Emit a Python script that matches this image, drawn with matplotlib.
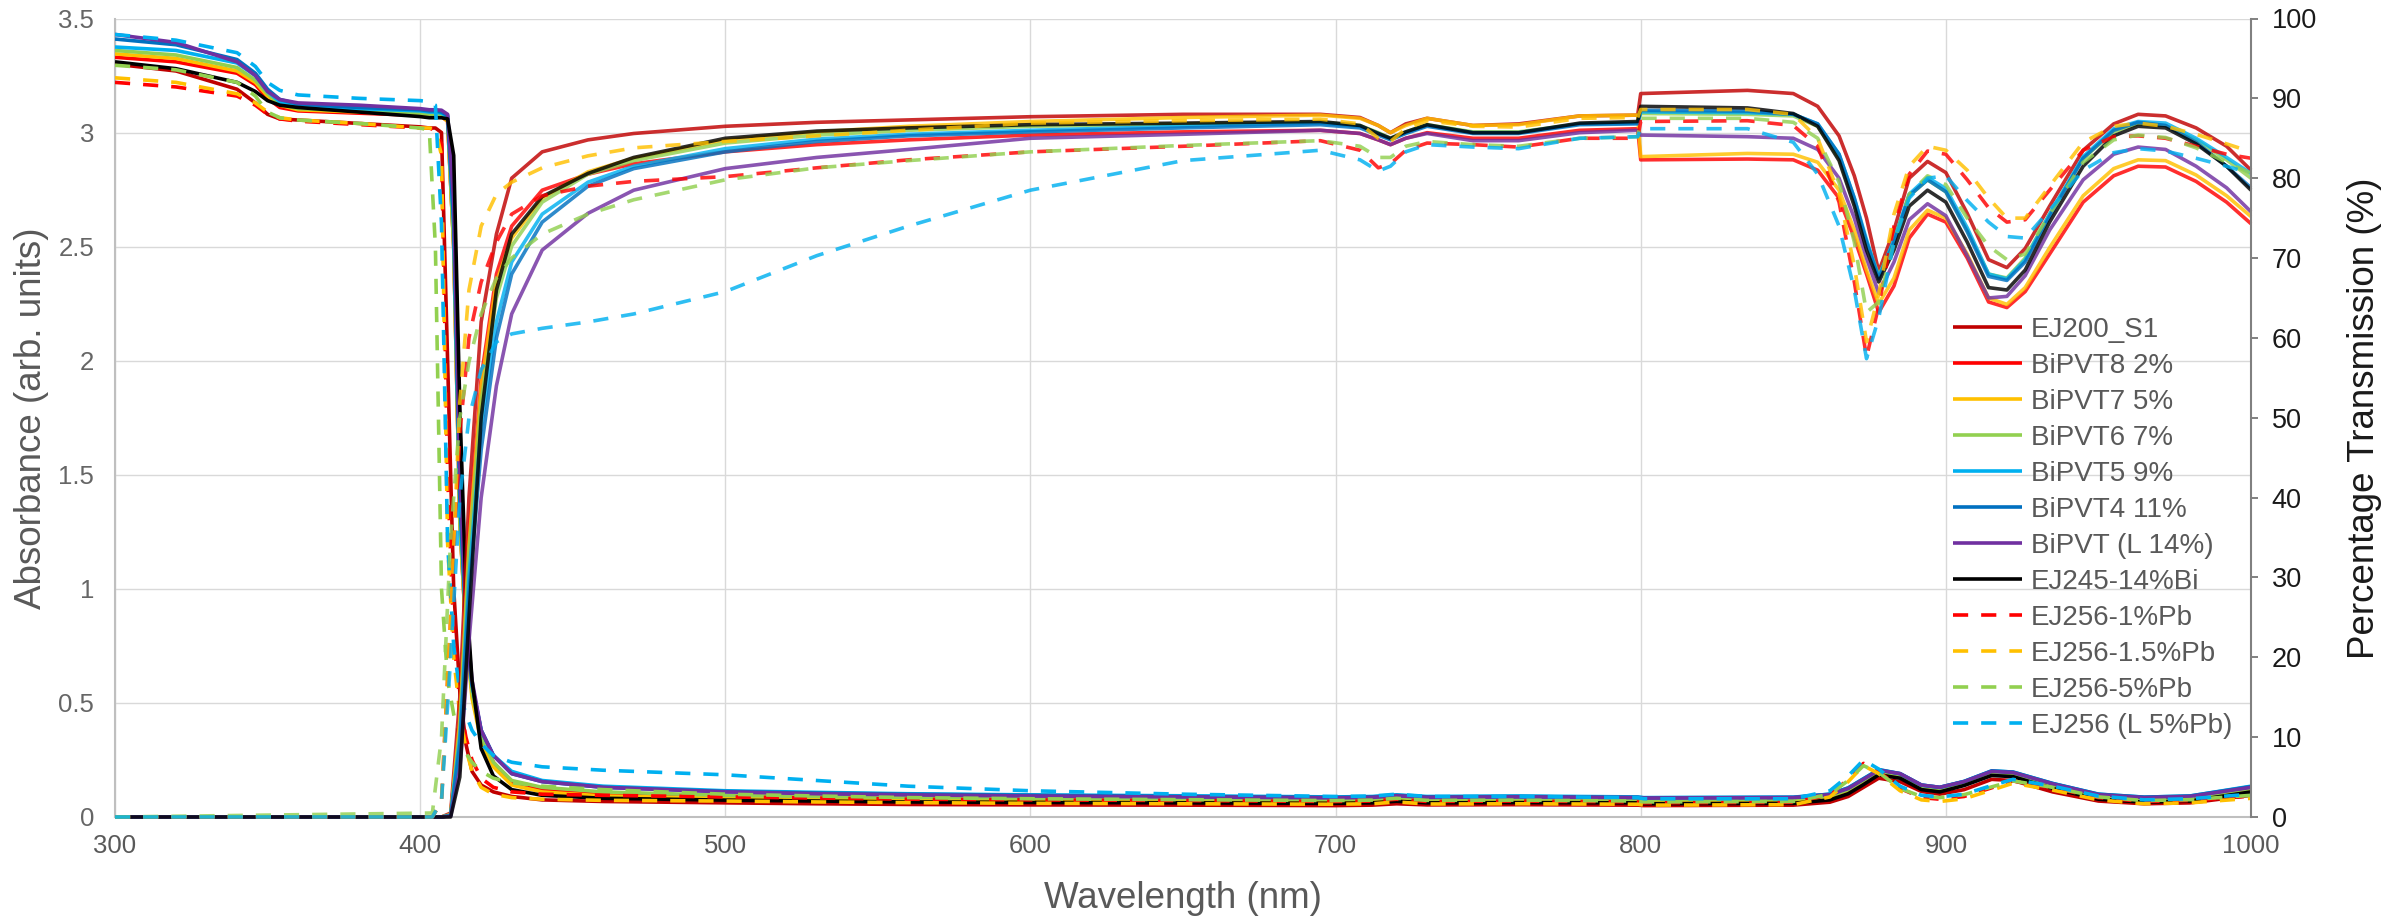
import matplotlib
matplotlib.use('Agg')
import matplotlib.pyplot as plt
from matplotlib.ticker import FuncFormatter, MultipleLocator

plt.rcParams['font.family'] = ['Liberation Sans', 'DejaVu Sans']

# ---------------- series meta ----------------
labels = ['EJ200_S1', 'BiPVT8 2%', 'BiPVT7 5%', 'BiPVT6 7%', 'BiPVT5 9%',
          'BiPVT4 11%', 'BiPVT (L 14%)', 'EJ245-14%Bi', 'EJ256-1%Pb',
          'EJ256-1.5%Pb', 'EJ256-5%Pb', 'EJ256 (L 5%Pb)']
colors = ['#C00000', '#FF0000', '#FFC000', '#92D050', '#00B0F0', '#0070C0',
          '#7030A0', '#000000', '#FF0000', '#FFC000', '#92D050', '#00B0F0']
dashed = [False] * 8 + [True] * 4

# ---------------- absorbance (left axis) ----------------
WA = [300, 320, 340, 346, 350, 354, 360, 380, 400,
      403, 405, 407, 409, 411, 413, 415, 417, 420, 424,
      430, 440, 460, 500, 530, 560, 600, 650, 700,
      712, 720, 730, 760, 799, 801, 850,
      862, 868, 873, 878, 885, 892, 898, 906, 915, 922, 935, 950, 965, 980, 1000]

A_EJ200 = [3.30, 3.27, 3.19, 3.13, 3.08, 3.06, 3.055, 3.04, 3.025,
           3.02, 3.02, 3.0, 2.0, 1.0, 0.55, 0.32, 0.2, 0.14, 0.11,
           0.09, 0.075, 0.068, 0.062, 0.058, 0.055, 0.053, 0.052, 0.05,
           0.052, 0.058, 0.053, 0.054, 0.052, 0.05, 0.052,
           0.065, 0.09, 0.13, 0.17, 0.155, 0.112, 0.1, 0.12, 0.165, 0.16, 0.11, 0.07, 0.058, 0.062, 0.095]
A_B8 = [3.33, 3.31, 3.26, 3.21, 3.15, 3.11, 3.095, 3.085, 3.075,
        3.07, 3.07, 3.07, 3.05, 2.5, 1.3, 0.8, 0.55, 0.35, 0.24,
        0.15, 0.12, 0.1, 0.09, 0.085, 0.082, 0.08, 0.077, 0.075,
        0.077, 0.083, 0.077, 0.078, 0.075, 0.072, 0.074,
        0.088, 0.115, 0.155, 0.195, 0.18, 0.13, 0.12, 0.145, 0.19, 0.185, 0.135, 0.09, 0.078, 0.082, 0.12]
A_B7 = [3.345, 3.325, 3.27, 3.22, 3.16, 3.12, 3.10, 3.09, 3.08,
        3.075, 3.075, 3.07, 3.05, 2.5, 1.3, 0.8, 0.52, 0.33, 0.22,
        0.14, 0.11, 0.092, 0.082, 0.078, 0.075, 0.072, 0.07, 0.068,
        0.07, 0.077, 0.07, 0.072, 0.07, 0.068, 0.07,
        0.085, 0.112, 0.152, 0.192, 0.177, 0.127, 0.117, 0.142, 0.187, 0.182, 0.132, 0.087, 0.075, 0.079, 0.118]
A_B6 = [3.36, 3.34, 3.285, 3.23, 3.17, 3.125, 3.105, 3.095, 3.085,
        3.08, 3.08, 3.075, 3.06, 2.5, 1.3, 0.82, 0.55, 0.35, 0.24,
        0.16, 0.13, 0.11, 0.095, 0.09, 0.086, 0.083, 0.08, 0.077,
        0.079, 0.086, 0.079, 0.08, 0.078, 0.076, 0.078,
        0.092, 0.12, 0.16, 0.2, 0.185, 0.135, 0.125, 0.15, 0.195, 0.19, 0.14, 0.093, 0.08, 0.085, 0.125]
A_B5 = [3.375, 3.36, 3.305, 3.25, 3.18, 3.135, 3.115, 3.105, 3.095,
        3.09, 3.09, 3.085, 3.07, 2.6, 1.4, 0.85, 0.58, 0.38, 0.27,
        0.20, 0.16, 0.135, 0.115, 0.108, 0.102, 0.097, 0.093, 0.088,
        0.09, 0.097, 0.09, 0.092, 0.088, 0.085, 0.087,
        0.1, 0.128, 0.168, 0.208, 0.19, 0.14, 0.13, 0.156, 0.202, 0.197, 0.147, 0.1, 0.087, 0.092, 0.135]
A_B4 = [3.41, 3.385, 3.32, 3.26, 3.19, 3.145, 3.125, 3.11, 3.10,
        3.095, 3.095, 3.09, 3.075, 2.6, 1.4, 0.85, 0.58, 0.38, 0.27,
        0.19, 0.155, 0.13, 0.112, 0.105, 0.1, 0.095, 0.09, 0.086,
        0.088, 0.095, 0.088, 0.09, 0.086, 0.084, 0.086,
        0.1, 0.127, 0.167, 0.207, 0.19, 0.14, 0.13, 0.156, 0.202, 0.197, 0.147, 0.1, 0.087, 0.092, 0.133]
A_BL = [3.43, 3.395, 3.31, 3.25, 3.18, 3.145, 3.13, 3.12, 3.105,
        3.1, 3.1, 3.098, 3.08, 2.7, 1.5, 0.9, 0.6, 0.38, 0.27,
        0.19, 0.155, 0.13, 0.11, 0.102, 0.097, 0.092, 0.088, 0.084,
        0.086, 0.093, 0.086, 0.088, 0.085, 0.083, 0.085,
        0.098, 0.125, 0.165, 0.205, 0.19, 0.14, 0.13, 0.155, 0.2, 0.195, 0.145, 0.098, 0.085, 0.09, 0.13]
A_EJ245 = [3.31, 3.28, 3.22, 3.18, 3.14, 3.12, 3.11, 3.09, 3.07,
           3.065, 3.065, 3.065, 3.06, 2.9, 1.8, 1.0, 0.6, 0.3, 0.18,
           0.12, 0.095, 0.082, 0.074, 0.07, 0.066, 0.064, 0.062, 0.06,
           0.062, 0.069, 0.062, 0.063, 0.062, 0.058, 0.06,
           0.075, 0.102, 0.142, 0.185, 0.17, 0.12, 0.11, 0.138, 0.182, 0.177, 0.125, 0.078, 0.065, 0.07, 0.11]
A_P1 = [3.22, 3.20, 3.16, 3.12, 3.08, 3.06, 3.05, 3.035, 3.02,
        3.02, 3.01, 2.95, 1.5, 0.8, 0.5, 0.35, 0.25, 0.17, 0.13,
        0.11, 0.1, 0.095, 0.088, 0.083, 0.078, 0.075, 0.072, 0.068,
        0.07, 0.078, 0.068, 0.07, 0.066, 0.062, 0.064,
        0.098, 0.165, 0.235, 0.2, 0.125, 0.085, 0.078, 0.09, 0.128, 0.158, 0.128, 0.085, 0.068, 0.072, 0.092]
A_P15 = [3.24, 3.22, 3.17, 3.13, 3.09, 3.065, 3.055, 3.04, 3.02,
         3.02, 3.015, 2.9, 1.2, 0.7, 0.45, 0.3, 0.2, 0.13, 0.1,
         0.085, 0.078, 0.073, 0.07, 0.066, 0.063, 0.06, 0.058, 0.056,
         0.058, 0.066, 0.057, 0.058, 0.056, 0.052, 0.054,
         0.088, 0.155, 0.225, 0.19, 0.115, 0.075, 0.068, 0.08, 0.118, 0.148, 0.118, 0.075, 0.058, 0.062, 0.082]
A_P5 = [3.295, 3.275, 3.22, 3.16, 3.09, 3.065, 3.055, 3.04, 3.02,
        3.01, 2.5, 1.0, 0.6, 0.45, 0.35, 0.28, 0.24, 0.2, 0.17,
        0.15, 0.135, 0.12, 0.10, 0.092, 0.085, 0.08, 0.076, 0.072,
        0.074, 0.082, 0.073, 0.074, 0.07, 0.066, 0.068,
        0.1, 0.16, 0.225, 0.195, 0.125, 0.09, 0.085, 0.098, 0.132, 0.158, 0.13, 0.088, 0.072, 0.076, 0.095]
A_PL = [3.43, 3.405, 3.35, 3.29, 3.22, 3.185, 3.165, 3.15, 3.14,
        3.135, 3.12, 2.6, 1.2, 0.75, 0.55, 0.45, 0.38, 0.32, 0.27,
        0.24, 0.22, 0.205, 0.185, 0.16, 0.135, 0.115, 0.1, 0.09,
        0.092, 0.1, 0.09, 0.09, 0.085, 0.08, 0.08,
        0.115, 0.18, 0.25, 0.21, 0.135, 0.095, 0.088, 0.1, 0.138, 0.165, 0.135, 0.092, 0.075, 0.08, 0.1]

# ---------------- transmission (right axis, %) ----------------
WT = [300, 404, 407, 410, 413, 416, 420, 425, 430, 440,
      455, 470, 500, 530, 560, 600, 650, 695, 708, 714,
      718, 723, 730, 745, 760, 780, 799, 800, 835, 850,
      858, 865, 870, 874, 878, 883, 888, 894, 900, 907,
      914, 920, 926, 934, 945, 955, 963, 972, 982, 992, 1000]

T_EJ200 = [0, 0, 0, 0.5, 15, 40, 62, 73, 80, 83.3,
           84.8, 85.6, 86.5, 87.0, 87.3, 87.7, 88.0, 88.0, 87.6, 86.6,
           85.7, 86.8, 87.5, 86.6, 86.8, 87.8, 87.9, 90.6, 91.0, 90.6,
           89.0, 85.3, 80.3, 75.0, 68.3, 73.5, 80.0, 82.1, 80.7, 75.6,
           69.8, 68.8, 71.2, 76.5, 83.5, 86.8, 88.0, 87.8, 86.3, 84.0, 81.0]
T_B8 = [0, 0, 0, 0.3, 12, 35, 55, 68, 74, 78.5,
        80.5, 81.8, 83.3, 84.2, 84.8, 85.4, 85.8, 86.0, 85.6, 84.8,
        84.2, 85.0, 85.7, 85.0, 85.0, 86.0, 86.2, 82.3, 82.4, 82.3,
        81.0, 77.5, 72.5, 68.0, 63.2, 66.5, 72.5, 75.5, 74.5, 70.0,
        64.5, 63.8, 65.8, 70.5, 77.0, 80.3, 81.5, 81.4, 79.6, 77.0, 74.3]
T_B7 = [0, 0, 0, 0.3, 12, 34, 54, 67, 72.5, 77.5,
        80.8, 82.5, 84.8, 85.8, 86.5, 87.1, 87.6, 87.9, 87.5, 86.6,
        85.7, 86.6, 87.5, 86.6, 86.7, 87.8, 87.9, 82.7, 83.1, 83.0,
        82.0, 78.5, 73.5, 68.5, 64.3, 67.5, 73.5, 76.0, 75.0, 70.5,
        65.0, 64.2, 66.3, 71.3, 77.8, 81.2, 82.3, 82.2, 80.4, 77.8, 75.2]
T_B6 = [0, 0, 0, 0.3, 11, 33, 52, 65, 71.5, 77.0,
        80.5, 82.2, 84.4, 85.4, 86.0, 86.5, 86.8, 87.0, 86.6, 85.7,
        85.0, 85.8, 86.7, 85.8, 85.8, 86.8, 87.0, 88.1, 88.0, 87.8,
        86.5, 82.5, 77.0, 72.0, 67.8, 72.0, 77.8, 79.8, 78.3, 73.5,
        68.0, 67.5, 70.0, 75.5, 82.5, 85.8, 86.8, 86.6, 84.8, 82.3, 80.0]
T_B5 = [0, 0, 0, 0.2, 10, 30, 49, 62, 69.5, 75.5,
        79.5, 81.5, 83.7, 84.9, 85.5, 86.0, 86.5, 86.9, 86.5, 85.6,
        84.9, 85.7, 86.6, 85.7, 85.7, 86.8, 86.9, 88.3, 88.2, 88.0,
        86.8, 83.0, 77.5, 72.3, 67.6, 72.3, 78.0, 80.1, 78.7, 73.8,
        68.0, 67.4, 69.8, 75.5, 82.7, 86.2, 87.1, 86.9, 85.0, 82.6, 80.6]
T_B4 = [0, 0, 0, 0.2, 9, 28, 46, 60, 68, 74.5,
        79.0, 81.2, 83.3, 84.6, 85.3, 85.8, 86.3, 86.7, 86.3, 85.4,
        84.8, 85.6, 86.5, 85.6, 85.6, 86.7, 86.8, 88.5, 88.4, 88.0,
        86.8, 83.0, 77.5, 72.0, 67.4, 72.0, 77.8, 79.8, 78.3, 73.3,
        67.7, 67.2, 69.5, 75.2, 82.5, 86.0, 87.0, 86.6, 84.5, 81.5, 78.8]
T_BL = [0, 0, 0, 0.1, 6, 22, 40, 54, 63, 71.0,
        75.6, 78.5, 81.2, 82.6, 83.6, 85.0, 85.5, 86.0, 85.6, 84.8,
        84.2, 85.0, 85.6, 84.7, 84.7, 85.7, 86.0, 85.4, 85.2, 85.0,
        83.6, 80.0, 75.0, 70.0, 65.6, 69.5, 74.8, 76.8, 75.3, 70.3,
        65.0, 65.2, 67.8, 73.5, 79.8, 83.0, 83.9, 83.6, 81.5, 78.8, 75.8]
T_EJ245 = [0, 0, 0, 0, 5, 25, 50, 66, 73, 77.7,
           80.6, 82.6, 85.0, 85.9, 86.3, 86.7, 86.9, 87.1, 86.6, 85.6,
           85.0, 85.8, 86.7, 85.7, 85.7, 86.9, 87.1, 89.0, 88.8, 88.1,
           86.5, 82.2, 76.5, 71.0, 67.0, 71.0, 76.5, 78.5, 77.0, 72.0,
           66.3, 66.0, 68.5, 74.5, 81.5, 85.3, 86.5, 86.3, 84.3, 81.5, 78.5]
T_P1 = [0, 0, 2, 25, 48, 60, 67, 72, 75.5, 77.8,
        79.0, 79.6, 80.2, 81.3, 82.3, 83.3, 84.0, 84.7, 83.5, 81.3,
        81.8, 83.5, 84.4, 84.2, 83.9, 85.0, 85.0, 87.1, 87.2, 86.6,
        84.0, 77.0, 67.0, 57.6, 64.0, 74.0, 80.5, 83.4, 83.0, 79.8,
        76.3, 74.5, 74.8, 78.5, 83.5, 85.2, 85.3, 85.0, 84.0, 83.0, 82.5]
T_P15 = [0, 0, 2, 25, 52, 66, 74, 78, 79.5, 81.3,
         82.8, 83.8, 84.6, 85.3, 86.0, 86.9, 87.2, 87.4, 86.8, 85.0,
         84.6, 86.2, 87.2, 86.5, 86.4, 87.5, 87.6, 88.6, 88.6, 88.0,
         85.0, 78.0, 69.0, 59.5, 65.5, 75.5, 81.5, 84.0, 83.5, 81.0,
         77.5, 75.0, 75.0, 79.0, 84.5, 86.5, 86.9, 86.5, 85.5, 84.3, 83.3]
T_P5 = [0, 0.5, 10, 35, 50, 57, 63, 67.5, 70, 73,
        75.5, 77.3, 79.8, 81.3, 82.2, 83.3, 84.1, 84.7, 84.0, 82.6,
        82.6, 84.0, 84.6, 84.2, 84.0, 85.0, 85.2, 87.5, 87.5, 87.0,
        85.0, 79.5, 72.0, 63.2, 64.5, 72.0, 78.0, 80.3, 79.2, 75.0,
        71.5, 69.8, 70.5, 75.5, 82.0, 84.8, 85.4, 85.1, 83.8, 82.0, 80.6]
T_PL = [0, 0, 2, 20, 40, 50, 56, 59.5, 60.5, 61.2,
        62.0, 63.0, 65.8, 70.3, 74.0, 78.5, 82.2, 83.5, 82.3, 80.9,
        81.5, 83.3, 84.2, 83.9, 83.7, 85.0, 85.2, 86.2, 86.2, 84.5,
        80.5, 74.0, 66.0, 57.4, 62.5, 72.0, 77.5, 80.0, 80.3, 77.2,
        74.5, 72.7, 72.5, 76.0, 81.0, 83.2, 83.7, 83.4, 82.5, 81.5, 80.6]

A_all = [A_EJ200, A_B8, A_B7, A_B6, A_B5, A_B4, A_BL, A_EJ245, A_P1, A_P15, A_P5, A_PL]
T_all = [T_EJ200, T_B8, T_B7, T_B6, T_B5, T_B4, T_BL, T_EJ245, T_P1, T_P15, T_P5, T_PL]

x_ticks = [300, 400, 500, 600, 700, 800, 900, 1000]

# ---------------- figure ----------------
W, H = 2399, 917
fig = plt.figure(figsize=(W / 100, H / 100), dpi=100)
L, R, B, T = 115, 2251, 817, 18.5
ax1 = fig.add_axes([L / W, 1 - B / H, (R - L) / W, (B - T) / H])
ax2 = ax1.twinx()

LW = 2.6
DASH = (4.2, 3.6)
handles = []
for i in range(12):
    kw = dict(color=colors[i], lw=LW, solid_capstyle='butt', dash_capstyle='butt',
              solid_joinstyle='round')
    if dashed[i]:
        kw['dashes'] = DASH
    h, = ax1.plot(WA, A_all[i], zorder=3, **kw)
    handles.append(h)
for i in range(12):
    kw = dict(color=colors[i], lw=LW, alpha=0.82, solid_capstyle='butt', dash_capstyle='butt',
              solid_joinstyle='round')
    if dashed[i]:
        kw['dashes'] = DASH
    ax2.plot(WT, T_all[i], clip_on=False, **kw)

ax1.set_xlim(300, 1000)
ax1.set_ylim(0, 3.5)
ax2.set_ylim(0, 100)
ax1.set_xticks(x_ticks)
ax1.yaxis.set_major_locator(MultipleLocator(0.5))
ax1.yaxis.set_major_formatter(FuncFormatter(lambda v, p: f'{v:g}'))
ax2.yaxis.set_major_locator(MultipleLocator(10))

ax1.grid(True, color='#D9D9D9', lw=1.0)
ax1.set_axisbelow(True)

ax1.tick_params(axis='x', length=0, pad=12, labelsize=18.5, labelcolor='#595959')
ax1.tick_params(axis='y', length=0, pad=15, labelsize=18.5, labelcolor='#666666')
ax2.tick_params(axis='y', length=5, width=1.4, color='#808080', pad=10,
                labelsize=19.5, labelcolor='#1A1A1A', direction='out')

for s in ['top', 'right']:
    ax1.spines[s].set_visible(False)
ax1.spines['left'].set_color('#BFBFBF')
ax1.spines['left'].set_linewidth(1.5)
ax1.spines['bottom'].set_color('#BFBFBF')
ax1.spines['bottom'].set_linewidth(1.5)
for s in ['top', 'left', 'bottom']:
    ax2.spines[s].set_visible(False)
ax2.spines['right'].set_color('#808080')
ax2.spines['right'].set_linewidth(1.5)

fig.text(32 / W, 1 - 418 / H, 'Absorbance (arb. units)', rotation=90, ha='center', va='center',
         fontsize=26.5, color='#595959')
fig.text(1183 / W, 1 - 898 / H, 'Wavelength (nm)', ha='center', va='center',
         fontsize=26.5, color='#595959')
fig.text(2364 / W, 1 - 418 / H, 'Percentage Transmission (%)', rotation=90, ha='center', va='center',
         fontsize=26.5, color='#1A1A1A')

leg = ax2.legend(handles, labels, loc='upper left', bbox_to_anchor=(1953 / W, 1 - 317 / H),
                 bbox_transform=fig.transFigure, frameon=False, fontsize=20,
                 handlelength=2.5, handletextpad=0.3, labelspacing=0.36,
                 borderpad=0, borderaxespad=0, labelcolor='#595959')

fig.savefig('out.png', dpi=100)
